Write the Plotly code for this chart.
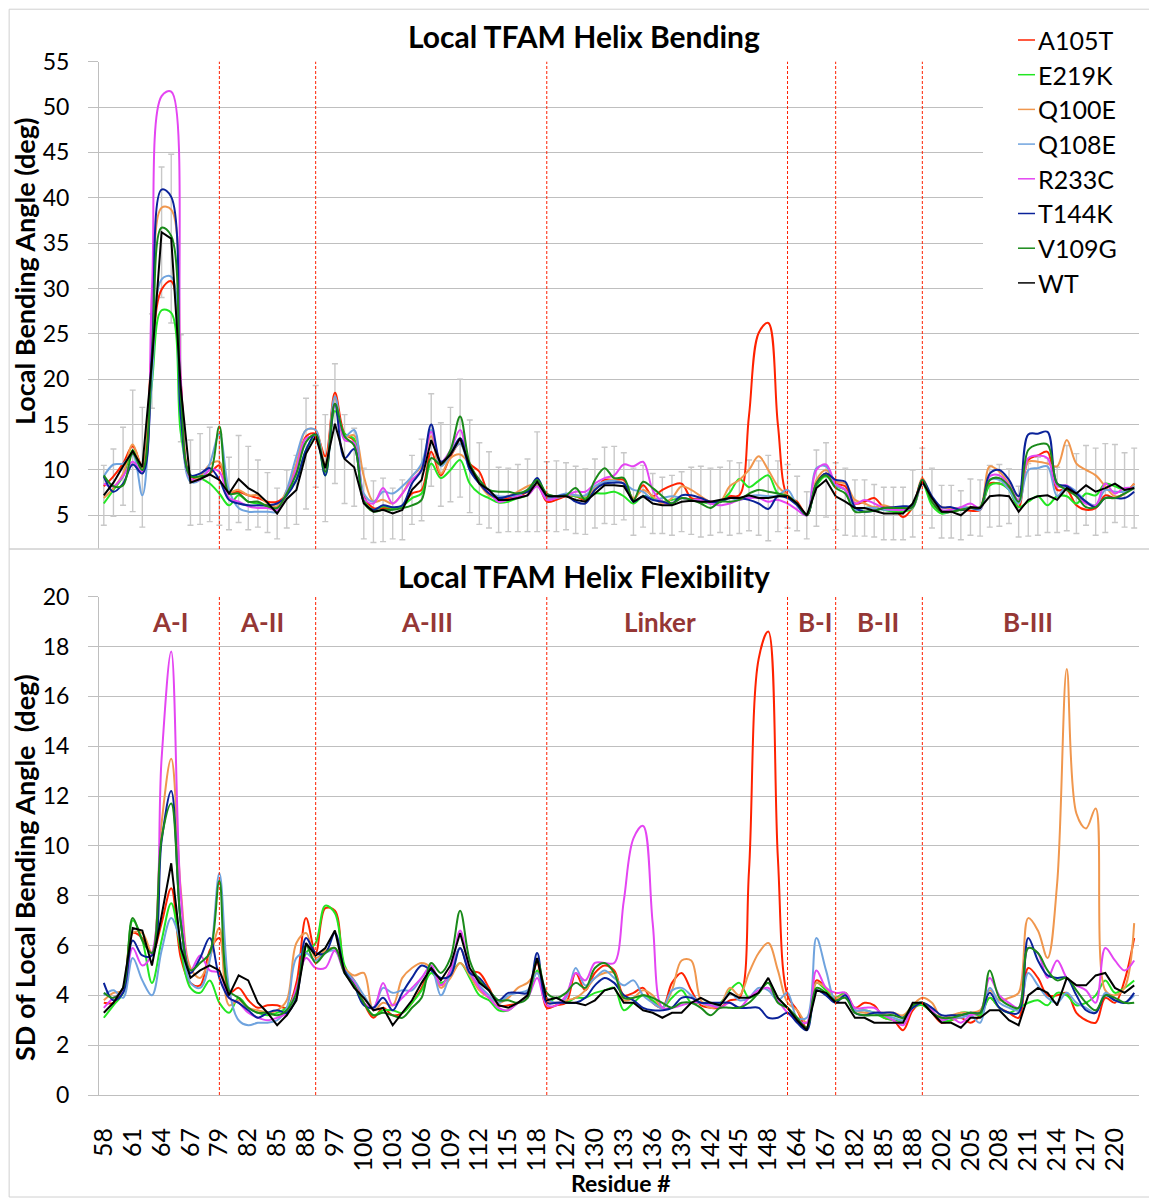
import plotly.graph_objects as go

# ---------------- categories (residue numbers) ----------------
residues = [58, 59, 60, 61, 62, 63, 64, 65, 66, 67, 68, 69,
            79, 80, 81, 82, 83, 84, 85, 86, 87, 88,
            95, 96, 97, 98, 99, 100, 101, 102, 103, 104, 105, 106, 107, 108, 109, 110,
            111, 112, 113, 114, 115, 116, 117, 118,
            125, 126, 127, 128, 129, 130, 131, 132, 133, 134, 135, 136, 137, 138, 139, 140,
            141, 142, 143, 144, 145, 146, 147, 148, 149,
            163, 164, 165, 166, 167,
            180, 181, 182, 183, 184, 185, 186, 187, 188,
            200, 201, 202, 203, 204, 205, 206, 207, 208, 209, 210, 211, 212, 213, 214, 215,
            216, 217, 218, 219, 220, 221, 222]
categories = [str(r) for r in residues]

tick_labels = ["58", "61", "64", "67", "79", "82", "85", "88", "97", "100", "103", "106",
               "109", "112", "115", "118", "127", "130", "133", "136", "139", "142", "145",
               "148", "164", "167", "182", "185", "188", "202", "205", "208", "211", "214",
               "217", "220"]

helix_starts = ["79", "95", "125", "163", "180", "200"]
region_names = ["A-I", "A-II", "A-III", "Linker", "B-I", "B-II", "B-III"]

series_names = ["A105T", "E219K", "Q100E", "Q108E", "R233C", "T144K", "V109G", "WT"]
series_colors = ["#FF2200", "#22E622", "#F0974E", "#6FA3DE", "#E445F2", "#0A2299", "#1A8A1A", "#000000"]

# ---------------- top panel: local bending angle (deg) ----------------
bend_A105T = [8.2, 9.3, 10.7, 12.6, 10.4, 23, 29.9, 30.8, 19.5, 9.3, 9.1, 9.6, 10.5, 7.6, 7.6, 7.2, 6.9, 6.5, 6.5, 7.4, 10, 13.7, 14, 11.5, 18.5, 14, 13.2,
              7.1, 5.8, 5.8, 5.8, 6.0, 7.4, 7.8, 12.0, 9.4, 11.5, 12.9, 10.7, 9.8, 7.4, 6.9, 6.9, 7.1, 7.6, 8.5, 6.5, 6.7, 7.1, 7.1, 6.7, 7.8, 8.9, 8.9,
              8.9, 6.7, 8.3, 7.1, 7.8, 8.3, 8.5, 6.9, 6.8, 6.5, 6.5, 7.1, 7.2, 16, 25.1, 26.2, 15, 7.1, 6.5, 5.0, 8.5, 9.6, 8.5, 8.2, 6.3, 6.5, 6.9,
              5.9, 5.8, 4.8, 5.9, 8.9, 6.5, 5.4, 5.4, 5.6, 5.5, 5.6, 8.5, 8.5, 8.0, 5.9, 11.1, 11.6, 12.0, 7.8, 7.8, 6.1, 5.6, 5.8, 7.2, 6.9, 7.4, 8.5]
bend_E219K = [6.3, 7.8, 9.3, 12.2, 9.8, 19.6, 27.6, 27.3, 14, 9.4, 9.1, 8.5, 7.4, 6.1, 7.2, 6.5, 6.3, 6.0, 5.6, 7.4, 8.9, 12.2, 13.7, 9.4, 16.5, 14, 13.4,
              6.7, 5.6, 6.0, 5.8, 6.0, 6.9, 7.4, 10.7, 9.1, 10.0, 11.1, 8.5, 7.4, 6.9, 6.4, 6.5, 6.9, 7.2, 8.3, 6.9, 6.9, 7.2, 7.1, 6.9, 7.4, 7.4, 7.6,
              7.1, 6.3, 7.1, 6.9, 6.5, 6.7, 6.9, 6.7, 6.5, 6.3, 6.5, 7.5, 9.0, 8.1, 8.8, 9.4, 7.4, 7.2, 6.3, 5.0, 8.2, 9.3, 8.2, 7.8, 5.6, 5.8, 5.9,
              5.6, 5.4, 5.4, 5.8, 8.5, 6.1, 5.2, 5.4, 5.6, 5.9, 5.8, 8.3, 8.5, 7.8, 5.9, 6.5, 7.1, 6.1, 7.1, 7.1, 6.3, 7.4, 7.2, 8.5, 8.2, 7.8, 8.2]
bend_Q100E = [6.9, 8.0, 9.6, 12.8, 10.2, 24, 38.9, 38.7, 19.6, 8.9, 9.3, 10.6, 10.9, 7.6, 7.8, 7.2, 7.2, 6.3, 6.0, 7.8, 10.7, 14.4, 14.4, 10.6, 17.9, 13.7, 13.8,
              9.3, 6.5, 6.7, 6.3, 7.4, 9.3, 10.4, 13.7, 9.6, 11.3, 11.7, 10.6, 8.5, 7.2, 6.9, 7.1, 7.6, 8.2, 8.5, 7.1, 7.1, 7.2, 7.2, 7.1, 8.0, 8.7, 8.9,
              8.5, 6.9, 7.8, 7.1, 6.3, 6.9, 8.2, 7.8, 7.1, 6.5, 6.5, 8.2, 8.9, 10.0, 11.5, 10.0, 8.2, 7.2, 6.3, 5.0, 8.9, 10.0, 8.7, 8.5, 6.7, 6.3, 5.9,
              6.1, 5.8, 5.8, 6.1, 9.1, 6.7, 5.9, 5.8, 5.8, 5.9, 5.9, 10.4, 9.8, 8.5, 7.1, 10.9, 10.9, 10.7, 10.4, 13.3, 10.7, 10.0, 9.4, 8.2, 7.1, 7.4, 8.5]
bend_Q108E = [9.3, 10.6, 10.7, 11.7, 7.2, 20, 31, 31.3, 15.9, 8.7, 8.9, 10.7, 14.0, 7.8, 5.8, 5.4, 5.4, 5.4, 5.4, 7.8, 11.5, 14.4, 14.4, 9.8, 18.1, 13.7, 14.4,
              7.4, 6.5, 7.6, 7.4, 8.2, 9.3, 10.7, 14.4, 10.4, 11.7, 12.9, 10.0, 8.7, 7.6, 7.1, 7.1, 7.2, 7.8, 8.7, 6.9, 7.1, 7.4, 7.2, 7.2, 8.2, 8.7, 8.8,
              8.5, 7.8, 7.6, 6.7, 6.9, 7.1, 6.9, 6.7, 6.7, 6.3, 6.5, 6.9, 6.7, 7.1, 7.2, 7.1, 7.2, 7.8, 6.1, 5.0, 10.2, 10.4, 8.3, 7.8, 5.6, 5.8, 5.8,
              5.6, 5.6, 5.6, 5.9, 8.5, 6.9, 5.4, 5.4, 5.9, 5.8, 5.6, 8.9, 8.9, 7.8, 6.3, 10.0, 10.2, 10.4, 7.1, 8.2, 7.6, 6.5, 6.1, 7.8, 7.6, 7.6, 8.2]
bend_R233C = [8.5, 8.2, 9.3, 10.9, 9.8, 30, 51.2, 51.7, 20, 9.1, 8.9, 10.0, 9.8, 6.9, 6.5, 6.0, 5.8, 5.8, 5.6, 7.4, 10.2, 13.5, 13.5, 10.0, 17.3, 13.3, 13.0,
              6.9, 6.3, 8.0, 6.3, 7.4, 8.9, 10.0, 14.2, 10.9, 12.2, 14.4, 10.4, 8.9, 7.6, 6.5, 6.7, 7.1, 7.2, 8.2, 6.7, 6.9, 7.2, 7.6, 7.6, 8.5, 9.1, 9.4,
              10.6, 10.4, 10.9, 7.8, 6.5, 6.3, 6.9, 6.7, 6.7, 6.3, 6.1, 6.3, 6.7, 6.9, 6.9, 6.5, 6.7, 6.3, 5.6, 5.0, 10.0, 10.6, 8.5, 7.8, 6.3, 6.7, 6.3,
              5.8, 5.6, 5.6, 5.9, 8.5, 6.9, 5.6, 5.6, 5.9, 6.3, 5.8, 9.3, 9.4, 8.3, 6.7, 11.3, 11.6, 11.3, 8.2, 8.3, 7.1, 6.3, 6.1, 8.5, 7.4, 8.0, 8.0]
bend_T144K = [9.3, 7.6, 8.5, 10.6, 9.6, 23, 40.9, 40.1, 15.9, 9.4, 9.6, 10.2, 8.9, 6.7, 6.3, 6.1, 6.1, 6.1, 6.3, 7.2, 8.9, 12.2, 14.0, 9.4, 17.3, 11.3, 12.3,
              6.5, 5.6, 6.1, 5.9, 6.1, 8.5, 10.0, 15.0, 10.9, 11.8, 13.5, 10.0, 8.5, 7.4, 6.9, 7.1, 7.4, 7.6, 9.1, 7.2, 7.1, 7.2, 6.5, 6.3, 7.8, 8.5, 8.6,
              8.5, 6.5, 7.1, 6.7, 6.5, 6.3, 7.2, 7.2, 6.9, 6.5, 6.5, 6.9, 6.9, 6.7, 6.3, 5.7, 7.1, 6.9, 6.1, 5.0, 8.5, 9.6, 8.9, 8.7, 5.9, 5.4, 5.5,
              5.8, 5.9, 6.0, 6.1, 8.9, 7.1, 5.9, 5.9, 5.6, 5.8, 5.8, 9.6, 10.0, 8.9, 7.1, 13.9, 14.0, 14.2, 8.5, 8.2, 7.4, 6.5, 5.9, 6.9, 6.9, 6.9, 7.6]
bend_V109G = [9.4, 8.2, 8.3, 11.8, 10.0, 22, 36.7, 35.8, 18, 9.3, 9.3, 9.6, 14.8, 7.4, 7.4, 6.5, 6.5, 6.0, 5.8, 7.4, 9.6, 13.1, 13.9, 9.8, 17.3, 13.7, 12.7,
              6.5, 5.4, 5.6, 5.6, 5.8, 6.1, 6.7, 11.3, 10.6, 12.2, 15.9, 10.7, 8.9, 7.8, 7.6, 7.6, 7.4, 7.8, 8.9, 7.4, 7.1, 7.2, 8.0, 6.7, 8.9, 10.2, 9.1,
              9.1, 6.7, 8.7, 8.0, 7.1, 6.3, 6.9, 6.7, 6.3, 5.8, 6.5, 6.5, 6.7, 7.4, 7.8, 7.6, 7.4, 7.1, 6.3, 5.0, 8.5, 9.4, 8.0, 7.4, 5.4, 5.4, 5.5,
              5.8, 5.8, 5.8, 5.9, 8.9, 6.5, 5.4, 5.4, 5.6, 5.8, 5.9, 8.9, 9.1, 8.2, 6.5, 12.2, 12.8, 12.8, 8.5, 7.8, 7.1, 5.9, 5.9, 6.9, 6.9, 7.4, 8.0]
bend_WT = [7.2, 8.6, 10.4, 12.1, 10.3, 22.0, 36.2, 35.5, 19.0, 8.6, 9.0, 9.5, 8.9, 7.4, 9.0, 8.0, 7.4, 6.4, 5.2, 6.8, 7.8, 11.8, 13.7, 10.2, 15.1, 11.2, 10.3,
           6.3, 5.4, 5.6, 5.2, 5.6, 7.8, 8.9, 13.3, 10.6, 11.7, 13.5, 10.4, 8.5, 7.8, 6.7, 6.7, 6.9, 7.2, 8.7, 7.1, 7.1, 7.1, 6.7, 6.5, 7.4, 8.3, 8.3,
           8.2, 6.5, 7.1, 6.3, 6.1, 6.1, 6.5, 6.6, 6.5, 6.5, 6.7, 6.9, 6.9, 7.2, 6.9, 6.9, 7.1, 7.1, 6.3, 5.0, 8.0, 8.9, 7.1, 6.5, 5.8, 5.8, 5.5,
           5.2, 5.2, 5.2, 6.3, 8.7, 6.9, 5.4, 5.4, 5.0, 5.9, 5.8, 7.1, 7.2, 7.1, 5.4, 6.7, 7.1, 7.2, 6.7, 8.0, 7.4, 8.3, 7.6, 8.0, 8.5, 7.8, 8.0]

# ---------------- bottom panel: SD of local bending angle (deg) ----------------
sd_A105T = [3.7, 3.7, 4.2, 6.5, 6.3, 5.7, 6.9, 8.3, 5.5, 4.5, 4.4, 5.8, 6.3, 4.1, 4.3, 3.8, 3.5, 3.6, 3.6, 3.5, 4.5, 7.1, 5.7, 7.5, 7.4, 5.1, 4.6,
            3.7, 3.1, 3.5, 3.2, 3.3, 3.7, 4.3, 5.1, 4.4, 5.0, 5.9, 5.0, 4.9, 4.3, 3.6, 3.6, 3.7, 4.0, 5.3, 3.5, 3.6, 3.7, 4.9, 4.2, 4.9, 5.2, 5.0,
            4.0, 4.1, 4.3, 3.7, 3.5, 4.5, 4.9, 4.2, 3.6, 3.5, 3.5, 3.8, 3.9, 9.0, 17.5, 18.6, 9.5, 4.0, 3.4, 2.7, 4.6, 4.3, 3.9, 4.1, 3.5, 3.7, 3.6,
            3.1, 3.0, 2.6, 3.4, 3.7, 3.3, 2.9, 3.0, 3.1, 2.9, 3.2, 3.9, 3.5, 3.3, 3.1, 5.1, 4.7, 4.0, 4.0, 4.1, 3.3, 3.0, 2.9, 3.9, 3.7, 4.6, 6.3]
sd_E219K = [3.1, 3.6, 4.1, 7.0, 6.2, 4.5, 6.2, 7.7, 5.8, 4.3, 4.1, 4.6, 3.7, 3.3, 3.9, 3.5, 3.3, 3.2, 3.3, 3.5, 4.2, 5.7, 6.1, 7.6, 7.3, 5.2, 4.5,
            3.7, 3.2, 3.4, 3.4, 3.3, 3.7, 4.2, 4.9, 4.5, 4.8, 5.3, 4.7, 4.0, 3.8, 3.4, 3.4, 3.7, 3.9, 5.0, 3.7, 3.9, 3.7, 3.9, 3.9, 4.1, 4.2, 4.3,
            3.4, 3.7, 4.0, 3.8, 3.5, 3.9, 4.2, 3.7, 3.7, 3.7, 3.7, 4.2, 4.5, 3.9, 4.1, 4.5, 3.9, 3.5, 3.0, 2.7, 4.5, 4.2, 3.9, 4.1, 3.4, 3.4, 3.3,
            3.1, 3.0, 3.0, 3.5, 3.6, 3.3, 3.0, 3.0, 3.3, 3.3, 3.2, 3.9, 3.5, 3.3, 3.5, 3.7, 3.8, 3.6, 4.1, 4.0, 3.6, 3.7, 4.0, 4.6, 4.1, 4.3, 4.6]
sd_Q100E = [3.8, 4.1, 4.2, 6.5, 6.5, 5.7, 10.9, 13.5, 8.2, 5.1, 4.7, 5.5, 6.7, 3.6, 3.8, 3.5, 3.4, 3.3, 3.4, 3.8, 6.1, 6.5, 5.5, 5.8, 5.9, 5.1, 4.8,
            4.9, 3.4, 3.7, 3.6, 4.7, 5.1, 5.3, 5.1, 4.3, 4.7, 5.3, 4.8, 4.2, 3.9, 3.7, 3.9, 4.3, 4.5, 4.9, 3.8, 3.7, 3.8, 3.9, 4.2, 4.7, 4.9, 4.9,
            3.8, 3.9, 4.2, 4.0, 3.5, 4.2, 5.4, 5.4, 3.8, 3.5, 3.6, 4.3, 4.0, 4.9, 5.7, 6.1, 5.0, 3.7, 3.4, 2.9, 4.5, 4.3, 3.9, 4.0, 3.4, 3.3, 3.3,
            3.3, 3.3, 3.2, 3.6, 3.9, 3.7, 3.1, 3.2, 3.3, 3.3, 3.4, 4.2, 3.8, 3.9, 4.1, 7.1, 6.6, 5.5, 8.5, 17.1, 11.3, 10.7, 11.5, 4.2, 4.0, 4.3, 6.9]
sd_Q108E = [4.0, 4.2, 3.9, 5.5, 4.6, 4.0, 5.8, 7.1, 6.1, 4.5, 4.3, 5.4, 8.9, 4.3, 3.0, 2.8, 2.9, 2.9, 3.0, 3.5, 5.5, 5.7, 5.4, 5.7, 5.8, 5.0, 4.6,
            4.0, 3.5, 4.3, 4.1, 4.2, 4.2, 4.7, 5.1, 4.0, 4.9, 5.9, 4.9, 4.4, 4.0, 3.7, 4.0, 4.1, 4.2, 4.9, 3.9, 3.7, 3.9, 5.1, 4.4, 4.7, 5.0, 4.7,
            4.4, 4.6, 4.0, 3.7, 3.5, 4.2, 4.3, 4.0, 3.7, 3.6, 3.6, 4.1, 3.8, 3.9, 4.3, 4.2, 3.8, 4.1, 3.1, 3.1, 6.3, 5.0, 3.8, 4.0, 3.4, 3.4, 3.3,
            3.2, 3.1, 3.0, 3.5, 3.7, 3.4, 3.0, 3.1, 3.1, 3.2, 2.9, 4.3, 3.7, 3.5, 3.4, 4.9, 4.4, 3.9, 3.7, 4.1, 3.7, 3.5, 3.3, 4.1, 3.8, 3.7, 4.0]
sd_R233C = [3.5, 3.9, 4.2, 5.9, 5.2, 5.7, 13.5, 17.8, 8.0, 5.0, 5.6, 5.0, 4.9, 3.9, 3.7, 3.3, 3.1, 3.0, 3.1, 3.3, 4.3, 5.5, 5.1, 5.1, 5.8, 4.9, 4.5,
            3.7, 3.5, 4.5, 3.6, 3.9, 4.3, 4.7, 5.2, 4.4, 5.0, 6.6, 5.0, 4.3, 3.9, 3.5, 3.4, 3.7, 3.9, 4.7, 3.6, 3.6, 4.0, 4.9, 4.6, 5.3, 5.3, 5.3,
            7.8, 10.3, 10.8, 6.9, 3.5, 3.5, 3.6, 3.7, 3.7, 3.6, 3.5, 3.7, 3.5, 3.9, 4.2, 4.3, 3.8, 3.3, 3.0, 2.9, 5.0, 4.3, 4.1, 4.1, 3.5, 3.5, 3.5,
            3.2, 3.0, 2.8, 3.5, 3.7, 3.4, 3.0, 3.1, 2.9, 3.2, 3.3, 4.7, 4.0, 3.7, 3.5, 5.9, 5.7, 4.7, 5.4, 4.7, 4.4, 4.2, 3.7, 5.9, 5.4, 5.0, 5.4]
sd_T144K = [4.5, 3.8, 4.1, 6.2, 5.6, 5.6, 10.2, 12.2, 6.9, 4.9, 5.5, 6.3, 4.7, 3.9, 3.7, 3.4, 3.1, 3.3, 3.4, 3.3, 3.9, 6.3, 5.7, 5.7, 6.5, 5.0, 4.4,
            3.6, 3.5, 3.9, 3.4, 4.1, 4.7, 5.2, 5.0, 4.7, 4.8, 5.9, 4.9, 4.7, 4.2, 3.8, 4.1, 4.1, 4.1, 5.7, 3.7, 3.7, 3.7, 3.7, 3.9, 4.4, 4.7, 4.5,
            4.0, 3.8, 3.5, 3.4, 3.4, 3.5, 3.9, 3.9, 3.7, 3.7, 3.7, 3.7, 3.5, 3.5, 3.5, 3.1, 3.1, 3.3, 2.9, 2.6, 4.2, 4.0, 3.7, 4.0, 3.3, 3.2, 3.3,
            3.3, 3.3, 3.1, 3.5, 3.7, 3.5, 3.2, 3.2, 3.2, 3.3, 3.3, 4.1, 3.5, 3.3, 3.3, 6.3, 5.4, 4.8, 4.7, 4.7, 4.0, 3.4, 3.3, 4.0, 3.8, 3.7, 4.1]
sd_V109G = [4.1, 3.9, 4.3, 7.1, 6.2, 5.7, 10.3, 11.7, 6.9, 5.0, 5.3, 5.7, 8.6, 4.2, 3.9, 3.5, 3.3, 3.3, 3.2, 3.4, 4.1, 6.0, 5.3, 5.7, 5.9, 4.9, 4.4,
            3.7, 3.2, 3.3, 3.2, 3.1, 3.5, 3.9, 5.3, 4.9, 5.5, 7.4, 5.4, 4.6, 4.2, 3.8, 3.8, 3.7, 3.9, 5.4, 4.1, 3.9, 4.1, 4.5, 4.3, 5.1, 5.3, 4.9,
            3.9, 3.9, 4.0, 3.9, 3.7, 3.5, 3.7, 3.7, 3.5, 3.2, 3.5, 3.5, 3.5, 3.7, 4.1, 4.5, 3.7, 3.5, 3.1, 2.7, 4.3, 4.1, 3.8, 3.9, 3.3, 3.2, 3.2,
            3.2, 3.2, 3.1, 3.6, 3.7, 3.3, 3.1, 3.1, 3.2, 3.3, 3.3, 5.0, 3.9, 3.6, 3.5, 5.9, 5.7, 5.0, 4.6, 4.7, 4.2, 3.7, 3.4, 4.0, 3.9, 3.7, 3.7]
sd_WT = [3.3, 3.7, 4.3, 6.7, 6.6, 5.2, 7.2, 9.3, 5.9, 4.7, 5.0, 5.2, 5.0, 4.0, 4.8, 4.6, 3.7, 3.3, 2.8, 3.2, 3.8, 6.1, 5.6, 5.9, 6.6, 4.9, 4.3,
         3.9, 3.4, 3.5, 2.8, 3.3, 3.8, 4.5, 5.1, 4.6, 5.2, 6.5, 5.1, 4.5, 4.2, 3.6, 3.5, 3.7, 4.0, 5.5, 3.8, 3.9, 3.7, 3.7, 3.6, 3.8, 4.2, 4.3,
         3.7, 3.7, 3.4, 3.3, 3.1, 3.3, 3.3, 3.7, 3.9, 3.7, 3.6, 4.1, 3.9, 3.9, 4.1, 4.7, 3.9, 3.5, 3.0, 2.6, 4.2, 4.1, 3.7, 3.7, 3.1, 3.1, 2.9,
         2.9, 2.9, 2.9, 3.7, 3.7, 3.3, 2.9, 2.9, 2.7, 3.1, 3.1, 3.4, 3.4, 3.0, 2.8, 4.0, 4.3, 4.1, 3.6, 4.7, 4.4, 4.4, 4.8, 4.9, 4.3, 4.1, 4.4]

bend_series = [bend_A105T, bend_E219K, bend_Q100E, bend_Q108E, bend_R233C, bend_T144K, bend_V109G, bend_WT]
sd_series = [sd_A105T, sd_E219K, sd_Q100E, sd_Q108E, sd_R233C, sd_T144K, sd_V109G, sd_WT]
for s in bend_series + sd_series:
    assert len(s) == len(categories), len(s)

# ---------------- geometry ----------------
# The page body adds an 8px margin, so the figure is drawn 8px in from the
# top-left corner; all positions below are given in window pixels.
OFF = 8
W, H = 1157 - OFF, 1199 - OFF
PX_L, PX_R = 99, 1139
TOP_Y0, TOP_Y1 = 549, 61.7
BOT_Y0, BOT_Y1 = 1095, 596.7
FONT = "Lato"
GRID = "#BFBFBF"


def px(x):
    return (x - OFF) / W


def py(y):
    return 1 - (y - OFF) / H


fig = go.Figure()

# error bars of WT (drawn first, under the lines)
fig.add_trace(go.Scatter(
    x=categories, y=bend_WT, mode="markers", xaxis="x", yaxis="y",
    marker=dict(size=1, color="rgba(0,0,0,0)"),
    error_y=dict(type="data", array=sd_WT, visible=True, color="#C8C8C8", thickness=1.4, width=3),
    showlegend=False, hoverinfo="skip"))

for name, color, ys in zip(series_names, series_colors, bend_series):
    shape = "linear" if name == "WT" else "spline"
    fig.add_trace(go.Scatter(
        x=categories, y=ys, mode="lines", name=name, xaxis="x", yaxis="y",
        line=dict(color=color, width=2, shape=shape, smoothing=1.0), showlegend=False))

for name, color, ys in zip(series_names, series_colors, sd_series):
    shape = "linear" if name == "WT" else "spline"
    fig.add_trace(go.Scatter(
        x=categories, y=ys, mode="lines", name=name, xaxis="x2", yaxis="y2",
        line=dict(color=color, width=2, shape=shape, smoothing=1.0), showlegend=False))

ncat = len(categories)
xdom = [px(PX_L), px(PX_R)]

fig.update_layout(
    template="none",
    width=W, height=H,
    margin=dict(l=0, r=0, t=0, b=0),
    paper_bgcolor="white", plot_bgcolor="white",
    font=dict(family=FONT, size=22, color="black"),
    showlegend=False,
    xaxis=dict(domain=xdom, anchor="y", type="category", categoryorder="array",
               categoryarray=categories, range=[-0.5, ncat - 0.5], automargin=False,
               showticklabels=False, ticks="", showgrid=False, showline=False, zeroline=False),
    yaxis=dict(domain=[py(TOP_Y0), py(TOP_Y1)], anchor="x", automargin=False,
               range=[55 - (TOP_Y0 - TOP_Y1) / ((515.3 - 61.7) / 50), 55],
               tickmode="array", tickvals=[5, 10, 15, 20, 25, 30, 35, 40, 45, 50, 55],
               showgrid=True, gridcolor=GRID, gridwidth=1, zeroline=False,
               showline=True, linecolor=GRID, linewidth=1,
               ticks="outside", ticklen=10, tickcolor=GRID,
               tickfont=dict(size=23, family=FONT), ticklabelstandoff=14),
    xaxis2=dict(domain=xdom, anchor="y2", type="category", categoryorder="array",
                categoryarray=categories, range=[-0.5, ncat - 0.5], automargin=False,
                tickmode="array", tickvals=tick_labels, ticktext=tick_labels,
                tickangle=-90, ticks="", showgrid=False, zeroline=False,
                showline=True, linecolor=GRID, linewidth=1,
                tickfont=dict(size=25, family=FONT), ticklabelstandoff=22),
    xaxis3=dict(domain=xdom, anchor="y2", overlaying="x2", type="linear", automargin=False,
                range=[-0.5, ncat - 0.5], tickmode="linear", tick0=-0.5, dtick=1,
                ticks="inside", ticklen=8, tickcolor=GRID, tickwidth=1,
                showticklabels=False, showgrid=False, zeroline=False, showline=False),
    yaxis2=dict(domain=[py(BOT_Y0), py(BOT_Y1)], anchor="x2", range=[0, 20], automargin=False,
                tickmode="linear", tick0=0, dtick=2,
                showgrid=True, gridcolor=GRID, gridwidth=1, zeroline=False,
                showline=True, linecolor=GRID, linewidth=1,
                ticks="outside", ticklen=10, tickcolor=GRID,
                tickfont=dict(size=23, family=FONT), ticklabelstandoff=14),
)

shapes = []
# chart borders
shapes.append(dict(type="rect", xref="paper", yref="paper", x0=0.001, x1=px(1152), y0=py(549), y1=0.999,
                   line=dict(color="#D0D0D0", width=1), fillcolor="rgba(0,0,0,0)", layer="above"))
shapes.append(dict(type="rect", xref="paper", yref="paper", x0=0.001, x1=px(1155), y0=py(1197), y1=py(549),
                   line=dict(color="#D0D0D0", width=1), fillcolor="rgba(0,0,0,0)", layer="above"))
# dashed helix boundaries (category axes take the category's serial index)
for cat in helix_starts:
    idx = categories.index(cat)
    for xr, yr in (("x", "y domain"), ("x2", "y2 domain")):
        shapes.append(dict(type="line", xref=xr, yref=yr, x0=idx, x1=idx, y0=0, y1=1,
                           line=dict(color="#FF2000", width=1, dash="3px,2px"), layer="above"))
# white legend box covering grid lines
shapes.append(dict(type="rect", xref="paper", yref="paper", x0=px(983), x1=px(1140), y0=py(300), y1=py(58),
                   line=dict(width=0), fillcolor="white", layer="above"))

annotations = []
# legend (manual)
for i, (name, color) in enumerate(zip(series_names, series_colors)):
    yc = 40 + 34.7 * i
    shapes.append(dict(type="line", xref="paper", yref="paper", x0=px(1018), x1=px(1035),
                       y0=py(yc), y1=py(yc), line=dict(color=color, width=1.5), layer="above"))
    annotations.append(dict(text=name, xref="paper", yref="paper", x=px(1036), y=py(yc),
                            xanchor="left", yanchor="middle", showarrow=False,
                            font=dict(size=25, family=FONT, color="black")))

# titles
annotations.append(dict(text="<b>Local TFAM Helix Bending</b>", xref="paper", yref="paper",
                        x=px(584), y=py(36), xanchor="center", yanchor="middle", showarrow=False,
                        font=dict(size=30, family=FONT)))
annotations.append(dict(text="<b>Local TFAM Helix Flexibility</b>", xref="paper", yref="paper",
                        x=px(584), y=py(576), xanchor="center", yanchor="middle", showarrow=False,
                        font=dict(size=30, family=FONT)))
annotations.append(dict(text="<b>Residue #</b>", xref="paper", yref="paper",
                        x=px(621), y=py(1183), xanchor="center", yanchor="middle", showarrow=False,
                        font=dict(size=23, family=FONT)))
annotations.append(dict(text="<b>Local Bending Angle (deg)</b>", xref="paper", yref="paper",
                        x=px(24), y=py(272), xanchor="center", yanchor="middle", showarrow=False,
                        textangle=-90, font=dict(size=27, family=FONT)))
annotations.append(dict(text="<b>SD of Local Bending Angle  (deg)</b>", xref="paper", yref="paper",
                        x=px(24), y=py(868), xanchor="center", yanchor="middle", showarrow=False,
                        textangle=-90, font=dict(size=27, family=FONT)))
# helix region labels
region_x = [170, 262, 427, 660, 815, 878, 1028]
for name, xc in zip(region_names, region_x):
    annotations.append(dict(text="<b>%s</b>" % name, xref="paper", yref="paper",
                            x=px(xc), y=py(622), xanchor="center", yanchor="middle", showarrow=False,
                            font=dict(size=26, family=FONT, color="#953735")))

fig.update_layout(shapes=shapes, annotations=annotations)
fig.write_html("out.html")
